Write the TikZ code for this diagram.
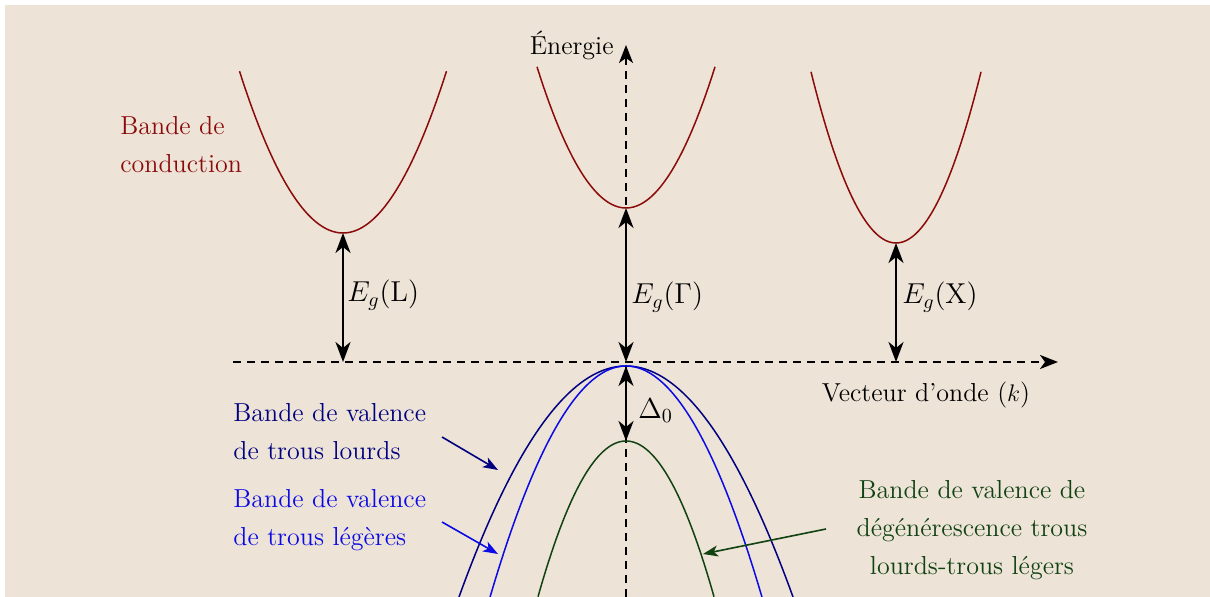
\documentclass[tikz,border=0pt]{standalone}
\usetikzlibrary{arrows.meta}
\definecolor{bg}{HTML}{EDE3D6}
\definecolor{cond}{HTML}{8B0A0A}
\definecolor{heavy}{HTML}{000080}
\definecolor{light}{HTML}{0A0AE6}
\definecolor{split}{HTML}{104212}
\begin{document}
\begin{tikzpicture}[x=0.5pt,y=-0.5pt,
  axis/.style={line width=1pt,dash pattern=on 4pt off 3pt,-{Stealth[length=9pt,width=7pt,inset=2.5pt]}},
  gap/.style={line width=1pt,{Stealth[length=10pt,width=7.5pt,inset=3pt]}-{Stealth[length=10pt,width=7.5pt,inset=3pt]}},
  band/.style={line width=0.75pt},
  lbl/.style={font=\fontsize{13}{19}\selectfont,inner sep=0pt},
  ptr/.style={line width=0.8pt,-{Stealth[length=7.5pt,width=5.5pt,inset=2pt]}}]
\useasboundingbox (0,0) rectangle (1210,597);
\fill[white] (0,0) rectangle (1210,597);
\fill[bg] (5,5) rectangle (1210,597);
% coordinates
\coordinate (Lmin) at (343,233);
\coordinate (Gmin) at (626,208);
\coordinate (Xmin) at (896,243);
\coordinate (Vtop) at (626,366);
\coordinate (Stop) at (626,441);
\coordinate (Lax) at (343,362);
\coordinate (Gax) at (626,362);
\coordinate (Xax) at (896,362);
\coordinate (hstart) at (233,362);
\coordinate (hend) at (1058,362);
\coordinate (vstart) at (626,597);
\coordinate (vend) at (626,45);
% axes
\draw[axis] (hstart) -- (hend);
\draw[axis] (vstart) -- (vend);
\node[lbl,anchor=east] (ener) at (614,45) {Énergie};
\node[lbl] (vec) at (926,395) {Vecteur d'onde ($k$)};
% conduction bands
\draw[band,cond] plot[domain=-103.5:103.5,samples=80] ({343+\x},{233-(0.1229*\x)^2});
\draw[band,cond] plot[domain=-89:89,samples=80] ({626+\x},{208-(0.1335*\x)^2});
\draw[band,cond] plot[domain=-85:85,samples=80] ({896+\x},{243-(0.1539*\x)^2});
% valence bands
\draw[band,heavy] plot[domain=-167:167,samples=100] ({626+\x},{366+(0.0910*\x)^2});
\draw[band,light] plot[domain=-136:136,samples=100] ({626+\x},{366+(0.1118*\x)^2});
\draw[band,split] plot[domain=-88:88,samples=80] ({626+\x},{441+(0.1418*\x)^2});
% gaps
\draw[gap] (Lmin) -- (Lax);
\draw[gap] (Gmin) -- (Gax);
\draw[gap] (Xmin) -- (Xax);
\draw[gap] (Vtop) -- (Stop);
\node[lbl,anchor=west,font=\fontsize{14}{19}\selectfont] (egl) at (347,295) {$E_g(\mathrm{L})$};
\node[lbl,anchor=west,font=\fontsize{14}{19}\selectfont] (egg) at (631,297) {$E_g(\Gamma)$};
\node[lbl,anchor=west,font=\fontsize{14}{19}\selectfont] (egx) at (902,297) {$E_g(\mathrm{X})$};
\node[lbl,anchor=west,font=\fontsize{14}{19}\selectfont] (d0) at (638,411) {$\Delta_0$};
% labels
\node[lbl,cond,anchor=north west,align=left] (cb) at (120,116) {Bande de\\conduction};
\node[lbl,heavy,anchor=north west,align=left] (hh) at (233,403) {Bande de valence\\de trous lourds};
\node[lbl,light,anchor=north west,align=left] (lh) at (233,489) {Bande de valence\\de trous légères};
\node[lbl,split,align=center] (so) at (972,530) {Bande de valence de\\dégénérescence trous\\lourds-trous légers};
\coordinate (hhA) at (442,437);
\coordinate (hhB) at (498,470);
\coordinate (lhA) at (442,522);
\coordinate (lhB) at (498,554);
\coordinate (soA) at (826,529);
\coordinate (soB) at (703,554);
\draw[ptr,heavy] (hhA) -- (hhB);
\draw[ptr,light] (lhA) -- (lhB);
\draw[ptr,split] (soA) -- (soB);
\end{tikzpicture}
\end{document}
